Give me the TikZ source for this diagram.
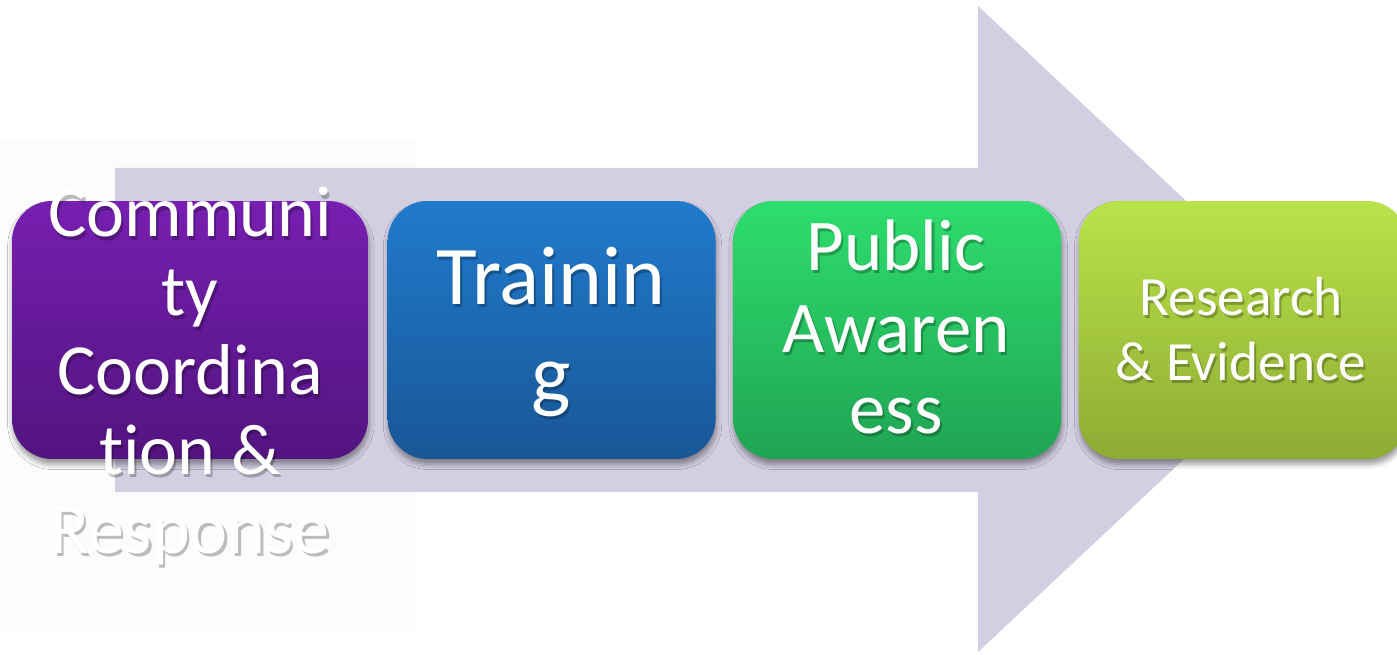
\documentclass[tikz,border=0pt]{standalone}
\usepackage{fontspec}
\setmainfont{Carlito}[Ligatures=NoCommon]
\usetikzlibrary{positioning,shadows.blur}

\definecolor{arrowfill}{HTML}{D3CEE1}
\definecolor{purpletop}{HTML}{761FB0}
\definecolor{purplebot}{HTML}{52147F}
\definecolor{bluetop}{HTML}{207ACB}
\definecolor{bluebot}{HTML}{195797}
\definecolor{greentop}{HTML}{2EDD6D}
\definecolor{greenbot}{HTML}{20A454}
\definecolor{limetop}{HTML}{B9E34A}
\definecolor{limebot}{HTML}{8EAB33}

\begin{document}
\begin{tikzpicture}[x=0.02cm, y=-0.02cm]
\def\w{6.56cm}
\def\h{5.16cm}
\tikzset{
  box/.style={rounded corners=0.8cm, minimum width=\w, minimum height=\h, inner sep=0pt,
    blur shadow={shadow xshift=0.5pt, shadow yshift=-3pt, shadow blur radius=3pt, shadow opacity=40}},
  lbl/.style={text=white, align=center, inner sep=0pt},
  lblshadow/.style={text=black, opacity=0.25, align=center, inner sep=0pt, xshift=1.2pt, yshift=-1.8pt},
}
\useasboundingbox (0,0) rectangle (1397,655);
\fill[black!1] (0,140) rectangle (415,632);

% big arrow behind the steps
\fill[arrowfill] (115,168) -- (978,168) -- (978,6) -- (1323,329) -- (978,652) -- (978,492) -- (115,492) -- cycle;

% the four steps
\node[box, minimum width=7.12cm, top color=purpletop, bottom color=purplebot] (community) at (190,330) {};
\node[box, top color=bluetop, bottom color=bluebot, right=0.38cm of community] (training) {};
\node[box, top color=greentop, bottom color=greenbot, right=0.34cm of training] (awareness) {};
\node[box, top color=limetop, bottom color=limebot, right=0.34cm of awareness] (research) {};

% labels (they spill over the boxes)
\node[lblshadow, font=\fontsize{41}{45}\selectfont] (community-sh) at (190,376) {Communi\\ty\\Coordina\\tion \&\\Response};
\node[lbl, font=\fontsize{41}{45}\selectfont] (community-txt) at (190,376) {Communi\\ty\\Coordina\\tion \&\\Response};
\node[lblshadow, font=\fontsize{47.5}{56}\selectfont] (training-sh) at (551,332) {Trainin\\g};
\node[lbl, font=\fontsize{47.5}{56}\selectfont] (training-txt) at (551,332) {Trainin\\g};
\node[lblshadow, font=\fontsize{41.5}{46.5}\selectfont] (awareness-sh) at (896,327) {Public\\Awaren\\ess};
\node[lbl, font=\fontsize{41.5}{46.5}\selectfont] (awareness-txt) at (896,327) {Public\\Awaren\\ess};
\node[lblshadow, font=\fontsize{31.5}{37}\selectfont] (research-sh) at (1241,329) {Research\\\& Evidence};
\node[lbl, font=\fontsize{31.5}{37}\selectfont] (research-txt) at (1241,329) {Research\\\& Evidence};
\end{tikzpicture}
\end{document}
